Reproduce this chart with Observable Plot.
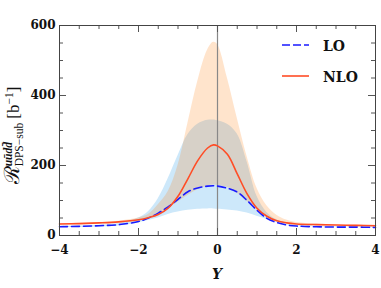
<!DOCTYPE html>
<html><head><meta charset="utf-8">
<script src="https://cdn.jsdelivr.net/npm/d3@7"></script>
<script src="https://cdn.jsdelivr.net/npm/@observablehq/plot@0.6"></script>
<style>body{margin:0;background:#fff}#chart{width:381px;height:288px}</style>
</head><body><div id="chart"></div>
<script>
// Rapidity grid and curves
const rapidity = [-4, -3.5, -3, -2.5, -2, -1.75, -1.5, -1.25, -1, -0.75, -0.5, -0.25, -0.1, 0, 0.25, 0.5, 0.75, 1, 1.25, 1.5, 1.75, 2, 2.5, 3, 3.5, 4];
const nloCentral = [33, 34, 36, 39, 45, 51, 60, 78, 112, 162, 214, 250, 259, 256, 232, 176, 119, 78, 55, 42, 36, 33, 31, 30, 29, 28];
const loCentral  = [25, 26, 28, 31, 40, 50, 64, 82, 103, 125, 136, 141, 142, 141, 135, 124, 100, 72, 49, 37, 30, 27, 25, 24, 24, 23];
const loUpper    = [26, 27, 29, 34, 50, 68, 105, 162, 228, 288, 318, 329, 330, 328, 318, 290, 210, 112, 66, 45, 35, 30, 27, 26, 25, 25];
const loLower    = [23, 23, 24, 27, 36, 43, 50, 60, 67, 72, 75, 76, 76, 75, 73, 70, 64, 55, 46, 38, 31, 27, 25, 24, 23, 22];
const nloUpper   = [34, 35, 37, 41, 50, 60, 88, 125, 200, 320, 440, 530, 552, 546, 450, 335, 225, 135, 85, 58, 44, 37, 33, 31, 30, 29];
const nloLower   = [30, 31, 33, 35, 41, 50, 62, 78, 95, 114, 131, 141, 144, 143, 137, 121, 97, 72, 52, 40, 34, 31, 29, 28, 27, 27];

const xMajor = [-4, -2, 0, 2, 4];
const xMinor = d3.range(-4, 4.001, 0.5);
const yMajor = [0, 200, 400, 600];
const yMinor = d3.range(0, 601, 50);
const seriesNames = ["LO", "NLO"];

const data = rapidity.map((x, i) => ({x, nlo: nloCentral[i], lo: loCentral[i], loUp: loUpper[i], loLo: loLower[i], nloUp: nloUpper[i], nloLo: nloLower[i]}));

const W = 381, H = 288, mL = 59, mR = 6, mT = 25, mB = 53;
const iw = W - mL - mR, ih = H - mT - mB;
const loColor = "#1a1aff", nloColor = "#ff4d26";

const plot = Plot.plot({
  width: W, height: H,
  marginLeft: mL, marginRight: mR, marginTop: mT, marginBottom: mB,
  x: {domain: [-4, 4]},
  y: {domain: [0, 600]},
  style: {fontFamily: "DejaVu Serif", fontWeight: "bold", fontSize: "12px", background: "white", color: "#111"},
  marks: [
    Plot.areaY(data, {x: "x", y1: "loLo", y2: "loUp", fill: "#cde8fa", curve: "catmull-rom"}),
    Plot.areaY(data, {x: "x", y1: "nloLo", y2: "nloUp", fill: "rgb(255,122,0)", fillOpacity: 0.2, curve: "catmull-rom"}),
    Plot.ruleX([0], {stroke: "#888", strokeWidth: 1.2}),
    Plot.line(data, {x: "x", y: "lo", stroke: loColor, strokeWidth: 1.6, strokeDasharray: "8,4", curve: "catmull-rom"}),
    Plot.line(data, {x: "x", y: "nlo", stroke: nloColor, strokeWidth: 1.6, curve: "catmull-rom"}),
    // inward ticks on all four sides
    Plot.tickX(xMinor, {x: d => d, insetTop: ih - 4, stroke: "#555"}),
    Plot.tickX(xMinor, {x: d => d, insetBottom: ih - 4, stroke: "#555"}),
    Plot.tickX(xMajor, {x: d => d, insetTop: ih - 7, stroke: "#555"}),
    Plot.tickX(xMajor, {x: d => d, insetBottom: ih - 7, stroke: "#555"}),
    Plot.tickY(yMinor, {y: d => d, insetRight: iw - 4, stroke: "#555"}),
    Plot.tickY(yMinor, {y: d => d, insetLeft: iw - 4, stroke: "#555"}),
    Plot.tickY(yMajor, {y: d => d, insetRight: iw - 7, stroke: "#555"}),
    Plot.tickY(yMajor, {y: d => d, insetLeft: iw - 7, stroke: "#555"}),
    Plot.frame({stroke: "#444"}),
    Plot.axisX({ticks: xMajor, tickSize: 0, tickPadding: 10, label: null}),
    Plot.axisY({ticks: yMajor, tickSize: 0, tickPadding: 4, label: null})
  ]
});
document.getElementById("chart").appendChild(plot);

const svg = d3.select(plot);

// x-axis title
svg.append("text").attr("x", 217).attr("y", 279).attr("text-anchor", "middle")
  .attr("font-family", "DejaVu Serif").attr("font-weight", "bold").attr("font-style", "italic")
  .attr("font-size", 14).attr("fill", "#111").text("Y");

// y-axis title with super/subscripts
const yg = svg.append("g").attr("transform", "translate(19,135) rotate(-90)");
const yt = yg.append("text").attr("text-anchor", "start")
  .attr("font-family", "Liberation Serif, DejaVu Serif, serif").attr("fill", "#111").attr("font-weight", "normal");
yt.append("tspan").attr("font-size", 21).text("\u211B");
const sub = yt.append("tspan").attr("font-size", 11.5).attr("dy", 4).text("DPS\u2212sub");
const subLen = sub.node().getComputedTextLength();
const sup = yt.append("tspan").attr("font-size", 11.5).attr("font-style", "italic").attr("font-weight", "bold")
  .attr("dx", -subLen).attr("dy", -11).text("u\u016Bdd\u0304");
const supLen = sup.node().getComputedTextLength();
yt.append("tspan").attr("font-size", 17).attr("dx", Math.max(0, subLen - supLen) + 4).attr("dy", 7).text("[b");
yt.append("tspan").attr("font-size", 11.5).attr("dy", -6).text("\u22121");
yt.append("tspan").attr("font-size", 17).attr("dy", 6).text("]");
const bb = yt.node().getBBox();
yt.attr("x", -bb.width / 2);

// legend
const leg = [
  {name: seriesNames[0], color: loColor, dash: "8,3", y: 45},
  {name: seriesNames[1], color: nloColor, dash: null, y: 76}
];
leg.forEach(l => {
  svg.append("line").attr("x1", 282).attr("x2", 309).attr("y1", l.y).attr("y2", l.y)
    .attr("stroke", l.color).attr("stroke-width", 1.6).attr("stroke-dasharray", l.dash);
  svg.append("text").attr("x", 323).attr("y", l.y + 5.5).attr("text-anchor", "start").attr("font-family", "DejaVu Serif")
    .attr("font-weight", "bold").attr("font-size", 14).attr("fill", "#111").text(l.name);
});
</script>
</body></html>
